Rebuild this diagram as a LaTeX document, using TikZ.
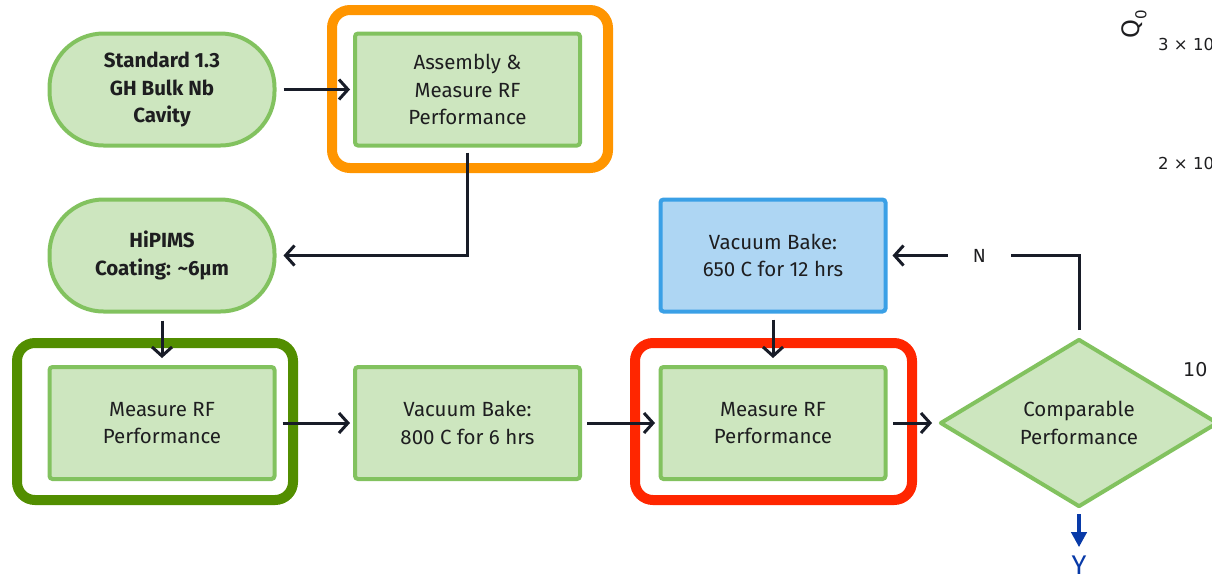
\documentclass[tikz,border=0pt]{standalone}
\usepackage{fontspec}
\setmainfont{Fira Sans}
\newfontfamily\dvs{DejaVu Sans}
\usetikzlibrary{arrows.meta,shapes.geometric}
\definecolor{gfill}{RGB}{205,230,191}
\definecolor{gline}{RGB}{130,194,95}
\definecolor{bfill}{RGB}{174,214,243}
\definecolor{bline}{RGB}{58,160,230}
\definecolor{lc}{RGB}{24,28,40}
\definecolor{txt}{RGB}{30,30,32}
\definecolor{forange}{RGB}{255,149,0}
\definecolor{fred}{RGB}{255,38,0}
\definecolor{fgreen}{RGB}{82,142,0}
\definecolor{yblue}{RGB}{8,58,168}
\tikzset{
  box/.style={draw=gline, fill=gfill, line width=4pt, rounded corners=3pt,
    minimum width=225pt, minimum height=112pt, align=center, inner sep=0pt,
    font=\fontsize{20.5}{27.5}\selectfont, text=txt},
  bluebox/.style={box, draw=bline, fill=bfill},
  stad/.style={box, rounded corners=54pt, font=\bfseries\fontsize{20.5}{27.5}\selectfont},
  decis/.style={diamond, draw=gline, fill=gfill, line width=4pt, line join=round,
    minimum width=278pt, minimum height=168pt, align=center, inner sep=0pt,
    font=\fontsize{20.5}{27.5}\selectfont, text=txt},
  conn/.style={draw=lc, line width=3pt, -{Straight Barb[length=9pt,width=20pt]}},
  yarr/.style={draw=yblue, line width=4pt, -{Triangle[length=15pt,width=15pt]}},
  frame/.style={line width=10pt, rounded corners=18pt},
  axlab/.style={font=\dvs\fontsize{16.5}{18}\selectfont, text=txt, inner sep=0pt}
}
\begin{document}
\begin{tikzpicture}[x=1pt,y=-1pt]
\useasboundingbox (0,0) rectangle (1212,582);
\clip (0,0) rectangle (1212,582);

% highlight frames
\draw[frame, draw=forange] (332,10) rectangle (608,168);
\draw[frame, draw=fgreen] (17,343) rectangle (293,500);
\draw[frame, draw=fred] (635,343) rectangle (912,500);

% nodes
\node[stad] (std) at (162,89.5) {Standard 1.3\\GH Bulk Nb\\Cavity};
\node[box] (asm) at (467.5,89.5) {Assembly \&\\Measure RF\\Performance};
\node[stad] (hip) at (162,255.5) {HiPIMS\\Coating: \textasciitilde6µm};
\node[box] (m1) at (162,423) {Measure RF\\Performance};
\node[box] (vb8) at (467.5,423) {Vacuum Bake:\\800 C for 6 hrs};
\node[box] (m2) at (773,423) {Measure RF\\Performance};
\node[bluebox] (vb6) at (773,255.5) {Vacuum Bake:\\650 C for 12 hrs};
\node[decis] (dia) at (1079,423) {Comparable\\Performance};
\node[font=\fontsize{27}{29}\selectfont, text=yblue, inner sep=0pt, anchor=base] (ylab) at (1079,574) {Y};

% connectors
\draw[conn, shorten <=7pt, shorten >=3pt] (std.east) -- (asm.west);
\draw[conn, shorten <=5pt, shorten >=7pt] (asm.south) |- (hip.east);
\draw[conn, shorten <=7pt, shorten >=7pt] (hip.south) -- (m1.north);
\draw[conn, shorten <=6pt, shorten >=3pt] (m1.east) -- (vb8.west);
\draw[conn, shorten <=5pt, shorten >=3.5pt] (vb8.east) -- (m2.west);
\draw[conn, shorten <=6pt, shorten >=7pt] (vb6.south) -- (m2.north);
\draw[conn, shorten <=5.5pt, shorten >=6pt] (m2.east) -- (dia.west);
\draw[conn, shorten <=7pt, shorten >=5pt] (dia.north) |- node[pos=0.76, fill=white, inner xsep=25pt, inner ysep=2pt, text=txt, font=\fontsize{19}{21}\selectfont] (nlab) {N} (vb6.east);
\draw[yarr, shorten <=5pt, shorten >=8pt] (dia.south) -- (ylab.north);

% partial plot labels at right edge
\node[axlab, font=\dvs\fontsize{24}{26}\selectfont, rotate=90] (q0) at (1134,24) {Q\raisebox{-0.3em}{\fontsize{15}{16}\selectfont 0}};
\node[axlab, anchor=base west] (t3) at (1158,50) {3 × 10};
\node[axlab, anchor=base west] (t2) at (1158,169) {2 × 10};
\node[axlab, anchor=base west, font=\dvs\fontsize{19}{20}\selectfont] (t1) at (1183,376) {10};
\end{tikzpicture}
\end{document}
